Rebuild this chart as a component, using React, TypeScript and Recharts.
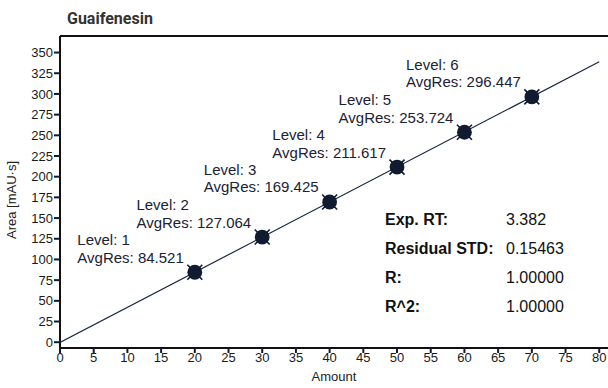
import React from 'react'
import { ScatterChart, Scatter, XAxis, YAxis, ReferenceLine, Customized } from 'recharts'

// calibration levels and their averaged responses
const levels = [1, 2, 3, 4, 5, 6]
const amounts = [20, 30, 40, 50, 60, 70]
const avgRes = [84.521, 127.064, 169.425, 211.617, 253.724, 296.447]

// regression line end points
const fitAmounts = [0, 80]
const fitAreas = [-0.2, 338.9]

const xTicks = [0, 5, 10, 15, 20, 25, 30, 35, 40, 45, 50, 55, 60, 65, 70, 75, 80]
const yTicks = [0, 25, 50, 75, 100, 125, 150, 175, 200, 225, 250, 275, 300, 325, 350]

const statLabels = ['Exp. RT:', 'Residual STD:', 'R:', 'R^2:']
const statValues = ['3.382', '0.15463', '1.00000', '1.00000']

const points = amounts.map((amount, i) => ({ amount, area: avgRes[i], level: levels[i] }))
const fit = fitAmounts.map((amount, i) => ({ amount, area: fitAreas[i] }))

const FONT = '"Liberation Sans", Arial, sans-serif'
const NAVY = '#101b30'
const TEXT = '#1a2234'

let measureCtx: CanvasRenderingContext2D | null = null
const textWidth = (s: string, font: string) => {
  if (!measureCtx) measureCtx = document.createElement('canvas').getContext('2d')
  if (!measureCtx) return s.length * 7.7
  measureCtx.font = font
  return measureCtx.measureText(s).width
}

const LevelPoint = (props: any) => {
  const { cx, cy, payload } = props
  if (cx == null || cy == null) return <g />
  const resText = `AvgRes: ${payload.area.toFixed(3)}`
  const w = textWidth(resText, `15px ${FONT}`)
  const left = cx - 11 - w
  const r = 7.5
  return (
    <g>
      <path
        d={`M${cx - r} ${cy - r}L${cx + r} ${cy + r}M${cx - r} ${cy + r}L${cx + r} ${cy - r}`}
        stroke={NAVY}
        strokeWidth={1.6}
      />
      <circle cx={cx} cy={cy} r={7.4} fill={NAVY} />
      <text x={left} y={cy - 27} fontSize={15} fontFamily={FONT} fill={TEXT}>
        {`Level: ${payload.level}`}
      </text>
      <text x={left} y={cy - 9.5} fontSize={15} fontFamily={FONT} fill={TEXT}>
        {resText}
      </text>
    </g>
  )
}

const Annotations = () => (
  <g fontFamily={FONT}>
    <text x={67} y={24} fontSize={16} fontWeight={700} fill="#333" fontFamily="Roboto, sans-serif">
      Guaifenesin
    </text>
    <text x={334} y={381} fontSize={13} fill="#222" textAnchor="middle">
      Amount
    </text>
    <text
      x={0}
      y={0}
      fontSize={13}
      fill="#222"
      textAnchor="middle"
      transform="translate(16 200) rotate(-90)"
    >
      Area [mAU·s]
    </text>
    {statLabels.map((label, i) => (
      <g key={label}>
        <text x={385} y={225 + i * 29} fontSize={16} fontWeight={700} fill="#111">
          {label}
        </text>
        <text x={506} y={225 + i * 29} fontSize={16} fill="#111">
          {statValues[i]}
        </text>
      </g>
    ))}
  </g>
)

export default function App() {
  return (
    <div style={{ position: 'absolute', left: 0, top: 0, width: 608, height: 388, background: '#fff' }}>
      <ScatterChart width={608} height={388} margin={{ top: 36, right: 0, bottom: 0, left: 0 }}>
        <XAxis
          type="number"
          dataKey="amount"
          domain={[0, 81.3]}
          ticks={xTicks}
          allowDataOverflow
          height={40}
          interval={0}
          axisLine={{ stroke: '#111', strokeWidth: 2 }}
          tickLine={{ stroke: NAVY, strokeWidth: 2 }}
          tickSize={5}
          tickMargin={0}
          tick={{ fontSize: 13, fill: '#1a1a1a', fontFamily: FONT }}
        />
        <YAxis
          type="number"
          dataKey="area"
          domain={[-7, 370]}
          ticks={yTicks}
          allowDataOverflow
          width={60}
          interval={0}
          axisLine={{ stroke: '#111', strokeWidth: 2 }}
          tickLine={{ stroke: NAVY, strokeWidth: 2 }}
          tickSize={6}
          tickMargin={1}
          tick={{ fontSize: 13, fill: '#1a1a1a', fontFamily: FONT }}
        />
        <ReferenceLine y={370} stroke="#111" strokeWidth={2} />
        <Scatter
          data={fit}
          line={{ stroke: '#1b2840', strokeWidth: 1.2 }}
          lineType="joint"
          shape={() => <g />}
          isAnimationActive={false}
        />
        <Scatter data={points} shape={LevelPoint} isAnimationActive={false} />
        <Customized component={Annotations} />
      </ScatterChart>
    </div>
  )
}
